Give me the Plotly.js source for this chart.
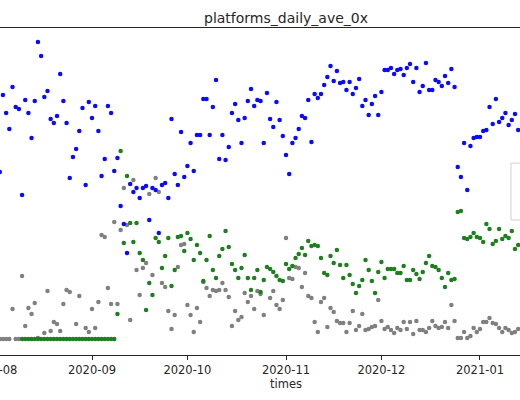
<!DOCTYPE html>
<html>
<head>
<meta charset="utf-8">
<script src="https://cdn.plot.ly/plotly-3.0.1.min.js"></script>
<style>
  html, body { margin: 0; padding: 0; width: 520px; height: 400px; overflow: hidden; background: #fff; }
  #chart { position: absolute; left: -40px; top: 0; width: 642px; height: 400px; }
</style>
</head>
<body>
<div id="chart"></div>
<script>
// Daily series starting at this date (one value per day, null = no point)
var startDate = '2020-08-03';

// Month ticks shown on the x axis
var tickDates = ['2020-08-01', '2020-09-01', '2020-10-01', '2020-11-01', '2020-12-01', '2021-01-01'];

var blueValues = [
  167,244,226,210,252,232,230,144,239,226,
  201,238,297,283,242,248,220,216,223,265,
  238,216,161,182,190,208,231,154,237,221,
  233,208,163,180,233,226,168,181,133,115,
  86,155,147,151,141,151,153,119,151,149,
  106,154,156,141,220,165,154,207,162,173,
  196,168,204,204,240,240,204,232,259,180,
  204,179,192,226,235,219,196,221,238,250,
  233,239,238,196,246,220,212,237,219,203,
  184,165,196,201,210,223,221,239,197,245,
  241,245,254,262,273,258,268,256,257,249,
  257,245,251,260,233,239,224,235,243,224,
  247,269,269,271,265,269,270,264,271,275,
  257,271,247,253,276,249,249,259,257,253,
  263,256,270,252,172,162,196,149,193,201,
  202,202,208,209,232,215,240,217,221,226,
  214,219,225,209
];

var greenValues = [
  null,null,null,null,null,null,null,0,0,0,
  0,0,0,0,0,0,0,0,0,0,
  0,0,0,0,0,0,0,0,0,0,
  0,0,0,0,0,0,0,25,188,96,
  163,116,97,116,86,79,29,56,44,101,
  97,71,83,101,53,69,102,103,88,106,
  100,79,94,86,58,79,103,69,61,83,
  90,108,92,75,69,61,71,84,61,49,
  61,69,47,59,72,70,67,63,59,58,
  75,70,73,81,85,91,84,98,93,94,
  93,81,66,64,83,76,89,74,61,74,
  64,55,46,53,59,79,69,58,46,67,
  77,61,70,70,70,66,66,73,59,59,
  69,65,60,67,76,83,73,72,69,61,
  52,66,59,60,127,128,101,100,102,106,
  102,101,97,115,110,95,98,110,100,103,
  101,108,90,94
];

var greyValues = [
  0,0,0,0,30,0,0,63,13,31,
  25,36,1,null,6,48,8,17,15,8,
  35,49,47,null,15,43,null,11,7,30,
  11,37,104,102,51,35,117,35,109,151,
  114,19,159,69,44,71,76,145,64,161,
  147,56,52,28,10,24,72,94,95,34,
  24,7,31,17,57,51,43,49,48,49,
  56,49,42,13,28,19,22,46,37,43,
  30,48,45,24,null,41,48,34,30,39,
  101,61,60,72,71,52,66,43,41,17,
  7,37,41,12,31,27,18,16,16,7,
  16,28,9,13,25,9,10,12,13,39,
  18,10,12,9,6,11,9,17,10,17,
  5,18,9,9,7,11,18,13,11,12,
  17,11,34,18,1,1,7,1,3,11,
  7,10,17,17,21,16,15,11,7,11,
  9,6,7,10
];

var chartTitle = 'platforms_daily_ave_0x';
var xLabel = 'times';

function datesFor(values) {
  var base = new Date(startDate + 'T00:00:00Z');
  return values.map(function (_, i) {
    var d = new Date(base.getTime() + i * 86400000);
    return d.toISOString().slice(0, 10);
  });
}

function series(values, color) {
  return {
    type: 'scatter',
    mode: 'markers',
    x: datesFor(values),
    y: values,
    marker: { color: color, size: 4.5, line: { width: 0 } },
    showlegend: false,
    hoverinfo: 'skip'
  };
}

var data = [
  series(greyValues, '#808080'),
  series(greenValues, '#1e7f1e'),
  series(blueValues, '#0a0aff')
];

var layout = {
  width: 642,
  height: 400,
  margin: { l: 30, r: 20, t: 28, b: 45 },
  paper_bgcolor: '#ffffff',
  plot_bgcolor: '#ffffff',
  showlegend: false,
  font: { family: 'DejaVu Sans, sans-serif', color: '#262626' },
  title: {
    text: chartTitle,
    x: 0.5, xref: 'paper', xanchor: 'center',
    y: 1, yref: 'paper', yanchor: 'bottom',
    pad: { b: 5 },
    font: { family: 'DejaVu Sans, sans-serif', size: 14, color: '#262626' }
  },
  xaxis: {
    type: 'date',
    range: ['2020-07-30 22:12', '2021-02-02 01:48'],
    tickmode: 'array',
    tickvals: tickDates,
    tickformat: '%Y-%m',
    ticks: 'outside',
    ticklen: 4,
    tickwidth: 1,
    tickcolor: '#262626',
    ticklabeloverflow: 'allow',
    showline: true,
    linecolor: '#262626',
    linewidth: 1,
    mirror: true,
    showgrid: false,
    zeroline: false,
    tickfont: { family: 'DejaVu Sans, sans-serif', size: 11.5, color: '#262626' },
    title: { text: xLabel, standoff: 4, font: { family: 'DejaVu Sans, sans-serif', size: 11.5, color: '#262626' } }
  },
  yaxis: {
    range: [-16, 311],
    showline: true,
    linecolor: '#262626',
    linewidth: 1,
    mirror: true,
    showticklabels: false,
    ticks: '',
    showgrid: false,
    zeroline: false
  },
  shapes: [{
    type: 'rect', xref: 'paper', yref: 'paper',
    x0: 0.880, x1: 0.99, y0: 0.413, y1: 0.587,
    line: { color: '#d0d0d0', width: 1 },
    fillcolor: 'rgba(255,255,255,0.8)',
    layer: 'above'
  }]
};

Plotly.newPlot('chart', data, layout, { staticPlot: true, displayModeBar: false });
</script>
</body>
</html>
